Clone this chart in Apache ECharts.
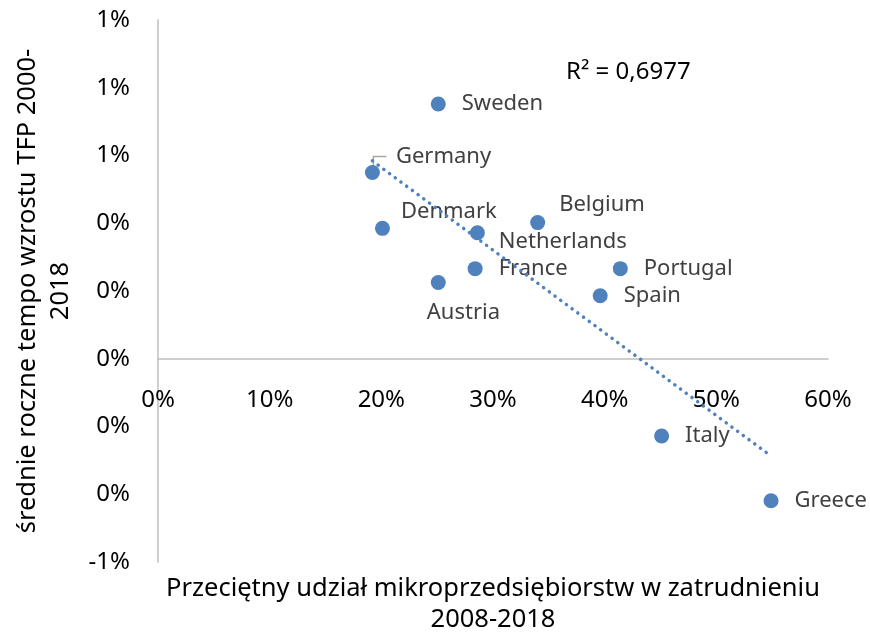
<!DOCTYPE html>
<html>
<head>
<meta charset="utf-8">
<script src="https://cdn.jsdelivr.net/npm/echarts@6/dist/echarts.min.js"></script>
<style>html,body{margin:0;padding:0;background:#fff}#c{width:870px;height:633px}</style>
</head>
<body>
<div id="c"></div>
<script>
// ---- data ----
const countries = ['Sweden','Germany','Denmark','Belgium','Netherlands','France','Portugal','Austria','Spain','Italy','Greece'];
const microShare = [25.1, 19.2, 20.1, 34.0, 28.6, 28.4, 41.4, 25.1, 39.6, 45.1, 54.9]; // %
const tfpGrowth = [0.752, 0.550, 0.385, 0.402, 0.372, 0.266, 0.266, 0.225, 0.186, -0.228, -0.419]; // %
const xAxisRange = [0, 60, 10];
const yAxisRange = [-0.6, 1.0, 0.2];
const r2Text = 'R² = 0,6977';
const xTitle = 'Przeciętny udział mikroprzedsiębiorstw w zatrudnieniu\n2008-2018';
const yTitle = 'średnie roczne tempo wzrostu TFP 2000-\n2018';

// ---- label styling (not data) ----
const labelShift = {Germany:[0,-16], Denmark:[-5,-17], Belgium:[-2,-18], Netherlands:[-2,9], Austria:[-35,30]};

// least squares trend
const n = microShare.length;
const mx = microShare.reduce((a,b)=>a+b,0)/n;
const my = tfpGrowth.reduce((a,b)=>a+b,0)/n;
let sxy=0, sxx=0;
for (let i=0;i<n;i++){ sxy += (microShare[i]-mx)*(tfpGrowth[i]-my); sxx += (microShare[i]-mx)**2; }
const slope = sxy/sxx, icpt = my - slope*mx;
const xLo = Math.min(...microShare), xHi = Math.max(...microShare);
const trend = [[xLo, icpt+slope*xLo],[xHi, icpt+slope*xHi]];

const FONT = 'Noto Sans';
const blue = '#4F81BD';
const points = countries.map((c,i)=>{
  const d = {name:c, value:[microShare[i], tfpGrowth[i]]};
  if (labelShift[c]) d.label = {offset: labelShift[c]};
  return d;
});

const chart = echarts.init(document.getElementById('c'), null, {renderer:'canvas'});
chart.setOption({
  animation:false,
  backgroundColor:'#fff',
  grid:{left:158, right:42, top:20, bottom:71, containLabel:false, outerBoundsMode:'none'},
  xAxis:{
    type:'value', min:xAxisRange[0], max:xAxisRange[1], interval:xAxisRange[2],
    axisLine:{show:true, onZero:false, lineStyle:{color:'#BFBFBF', width:1.5}},
    axisTick:{show:false}, splitLine:{show:false},
    axisLabel:{formatter:v=>Math.round(v)+'%', fontFamily:FONT, fontSize:24, color:'#000', margin:29},
    name:xTitle, nameLocation:'middle', nameGap:214,
    nameTextStyle:{fontFamily:FONT, fontSize:25.5, color:'#000', lineHeight:31}
  },
  yAxis:{
    type:'value', min:yAxisRange[0], max:yAxisRange[1], interval:yAxisRange[2],
    axisLine:{show:true, onZero:false, lineStyle:{color:'#BFBFBF', width:1.5}},
    axisTick:{show:false}, splitLine:{show:false},
    axisLabel:{formatter:v=>Math.round(v)+'%', fontFamily:FONT, fontSize:24, color:'#000', margin:28},
    name:yTitle, nameLocation:'middle', nameRotate:90, nameGap:79,
    nameTextStyle:{fontFamily:FONT, fontSize:25.5, color:'#000', lineHeight:33}
  },
  series:[
    {
      type:'scatter', data:points, symbolSize:15,
      itemStyle:{color:blue, opacity:1},
      label:{show:true, position:'right', distance:16, formatter:'{b}', fontFamily:FONT, fontSize:22, color:'#404040'},
      z:2
    },
    {
      type:'line', data:trend, symbol:'none', silent:true,
      lineStyle:{color:blue, width:3.5, type:[0.1,7], cap:'round', opacity:1},
      z:3
    }
  ]
});

// move the x axis up to the zero line
const yZero = chart.convertToPixel({yAxisIndex:0}, 0);
const yBottom = chart.convertToPixel({yAxisIndex:0}, yAxisRange[0]);
chart.setOption({xAxis:{offset: -(yBottom - yZero)}});

// Germany leader line + R² annotation
const gi = countries.indexOf('Germany');
const gp = chart.convertToPixel({seriesIndex:0}, [microShare[gi], tfpGrowth[gi]]);
chart.setOption({
  graphic:[
    {type:'polyline', shape:{points:[[gp[0]+1, gp[1]], [gp[0]+1, gp[1]-16], [gp[0]+14, gp[1]-16]]},
     style:{stroke:'#A6A6A6', lineWidth:1.5, fill:null}, z:1},
    {type:'text', left:566, top:60, style:{text:r2Text, font:'24px "Noto Sans"', fill:'#000'}}
  ]
});
</script>
</body>
</html>
